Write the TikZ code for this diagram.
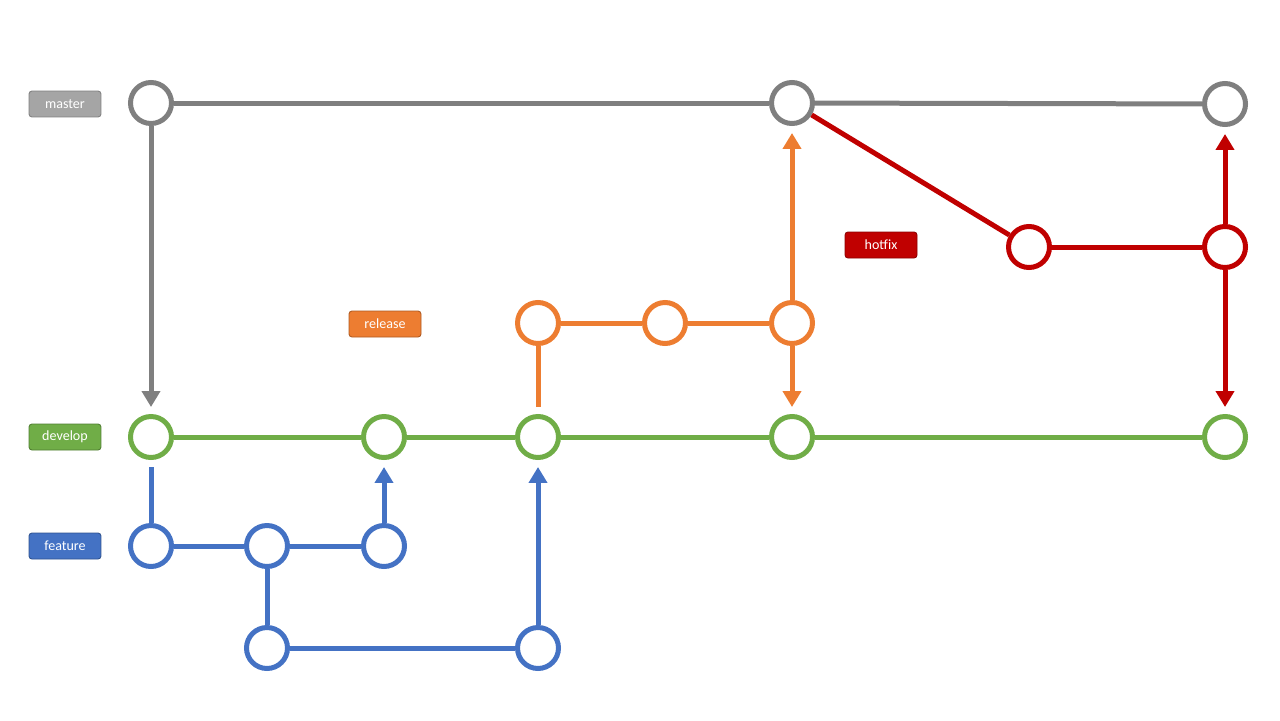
\documentclass[tikz,border=0pt]{standalone}
\usepackage{fontspec}
\setmainfont{Carlito}
\usepackage{tikz}
\usetikzlibrary{arrows.meta}
\definecolor{mastergray}{RGB}{127,127,127}
\definecolor{masterlbl}{RGB}{165,165,165}
\definecolor{devgreen}{RGB}{112,173,71}
\definecolor{devframe}{RGB}{80,126,50}
\definecolor{featblue}{RGB}{68,114,196}
\definecolor{featframe}{RGB}{47,82,143}
\definecolor{relorange}{RGB}{237,125,49}
\definecolor{relframe}{RGB}{174,90,33}
\definecolor{hotred}{RGB}{192,0,0}
\definecolor{hotframe}{RGB}{140,0,0}

\begin{document}
\begin{tikzpicture}[x=0.02cm, y=-0.02cm,
        commit/.style={draw=#1, circle, line width=0.1cm, minimum size=0.82cm, inner sep=0pt, fill=white},
        lbl/.style={draw=#1, rectangle, rounded corners=0.06cm, minimum width=1.44cm, minimum height=0.52cm, inner sep=0pt, text=white, font=\fontsize{8}{9}\selectfont, line width=0.5pt},
        ln/.style={draw=#1, line width=0.1cm},
        arr/.style={ln=#1, -{Triangle[width=0.36cm, length=0.32cm]}, shorten >=0.14cm}
    ]
    \useasboundingbox (0,0) rectangle (1280,720);

    % Branch labels
    \node[lbl=mastergray, fill=masterlbl] (lmaster) at (65,104) {master};
    \node[lbl=devframe, fill=devgreen] (ldevelop) at (65,437) {develop};
    \node[lbl=featframe, fill=featblue] (lfeature) at (65,546) {feature};
    \node[lbl=relframe, fill=relorange] (lrelease) at (385,324) {release};
    \node[lbl=hotframe, fill=hotred] (lhotfix) at (881,245) {hotfix};

    % Master commits
    \node[commit=mastergray] (m1) at (151,103) {};
    \node[commit=mastergray] (m2) at (792,103) {};
    \node[commit=mastergray] (m3) at (1225,104) {};

    % Hotfix commits
    \node[commit=hotred] (h1) at (1029,247) {};
    \node[commit=hotred] (h2) at (1225,247) {};

    % Release commits
    \node[commit=relorange] (r1) at (538,323) {};
    \node[commit=relorange] (r2) at (665,323) {};
    \node[commit=relorange] (r3) at (792,323) {};

    % Develop commits
    \node[commit=devgreen] (d1) at (151,437) {};
    \node[commit=devgreen] (d2) at (384,437) {};
    \node[commit=devgreen] (d3) at (538,437) {};
    \node[commit=devgreen] (d4) at (792,437) {};
    \node[commit=devgreen] (d5) at (1225,437) {};

    % Feature commits
    \node[commit=featblue] (f1) at (151,546) {};
    \node[commit=featblue] (f2) at (267,546) {};
    \node[commit=featblue] (f3) at (384,546) {};
    \node[commit=featblue] (f4) at (267,648) {};
    \node[commit=featblue] (f5) at (538,648) {};

    % Master line
    \draw[ln=mastergray] (m1) -- (m2);
    \draw[ln=mastergray] (m2) -- (m3);
    \draw[arr=mastergray] (m1) -- (d1);

    % Develop line
    \draw[ln=devgreen] (d1) -- (d2);
    \draw[ln=devgreen] (d2) -- (d3);
    \draw[ln=devgreen] (d3) -- (d4);
    \draw[ln=devgreen] (d4) -- (d5);

    % Feature lines
    \draw[ln=featblue, shorten <=0.14cm] (d1) -- (f1);
    \draw[ln=featblue] (f1) -- (f2);
    \draw[ln=featblue] (f2) -- (f3);
    \draw[arr=featblue] (f3) -- (d2);
    \draw[ln=featblue] (f2) -- (f4);
    \draw[ln=featblue] (f4) -- (f5);
    \draw[arr=featblue] (f5) -- (d3);

    % Release lines
    \draw[ln=relorange, shorten <=0.14cm] (d3) -- (r1);
    \draw[ln=relorange] (r1) -- (r2);
    \draw[ln=relorange] (r2) -- (r3);
    \draw[arr=relorange] (r3) -- (m2);
    \draw[arr=relorange] (r3) -- (d4);

    % Hotfix lines
    \draw[ln=hotred] (m2) -- (h1);
    \draw[ln=hotred] (h1) -- (h2);
    \draw[arr=hotred] (h2) -- (m3);
    \draw[arr=hotred] (h2) -- (d5);

\end{tikzpicture}
\end{document}
